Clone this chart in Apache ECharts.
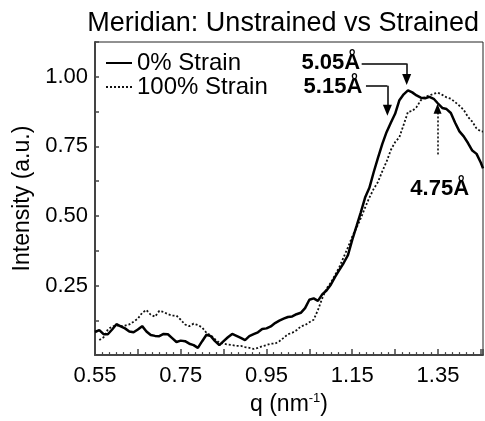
<!DOCTYPE html>
<html>
<head>
<meta charset="utf-8">
<script src="https://cdn.jsdelivr.net/npm/echarts@6/dist/echarts.min.js"></script>
<style>
  html, body { margin: 0; padding: 0; background: #fff; }
  #chart { width: 485px; height: 421px; }
</style>
</head>
<body>
<div id="chart"></div>
<script>
// q values (nm^-1)
var q = [
  0.55, 0.56, 0.57, 0.58, 0.59, 0.60, 0.61, 0.62, 0.63, 0.64,
  0.65, 0.66, 0.67, 0.68, 0.69, 0.70, 0.71, 0.72, 0.73, 0.74,
  0.75, 0.76, 0.77, 0.78, 0.79, 0.80, 0.81, 0.82, 0.83, 0.84,
  0.85, 0.86, 0.87, 0.88, 0.89, 0.90, 0.91, 0.92, 0.93, 0.94,
  0.95, 0.96, 0.97, 0.98, 0.99, 1.00, 1.01, 1.02, 1.03, 1.04,
  1.05, 1.06, 1.07, 1.08, 1.09, 1.10, 1.11, 1.12, 1.13, 1.14,
  1.15, 1.16, 1.17, 1.18, 1.19, 1.20, 1.21, 1.22, 1.23, 1.24,
  1.25, 1.26, 1.27, 1.28, 1.29, 1.30, 1.31, 1.32, 1.33, 1.34,
  1.35, 1.36, 1.37, 1.38, 1.39, 1.40, 1.41, 1.42, 1.43, 1.44,
  1.45, 1.455
]
// 0% strain (solid)
var unstrained = [
  0.083, 0.090, 0.075, 0.075, 0.092, 0.111, 0.103, 0.096, 0.085, 0.082,
  0.092, 0.104, 0.085, 0.072, 0.069, 0.068, 0.076, 0.075, 0.061, 0.047,
  0.052, 0.050, 0.041, 0.036, 0.026, 0.050, 0.073, 0.068, 0.050, 0.036,
  0.050, 0.064, 0.076, 0.069, 0.062, 0.054, 0.068, 0.075, 0.082, 0.094,
  0.096, 0.103, 0.115, 0.124, 0.131, 0.137, 0.139, 0.147, 0.152, 0.169,
  0.199, 0.204, 0.195, 0.218, 0.232, 0.253, 0.281, 0.306, 0.331, 0.359,
  0.414, 0.463, 0.513, 0.566, 0.601, 0.657, 0.709, 0.758, 0.801, 0.835,
  0.867, 0.916, 0.937, 0.951, 0.944, 0.933, 0.925, 0.923, 0.928, 0.921,
  0.904, 0.888, 0.884, 0.870, 0.835, 0.804, 0.786, 0.762, 0.735, 0.723,
  0.691, 0.671
]
// 100% strain (dotted)
var strained = [
  null, 0.054, 0.064, 0.092, 0.103, 0.107, 0.104, 0.106, 0.110, 0.120,
  0.131, 0.152, 0.162, 0.145, 0.138, 0.159, 0.155, 0.147, 0.142, 0.142,
  0.127, 0.110, 0.104, 0.113, 0.108, 0.099, 0.080, 0.071, 0.057, 0.045,
  0.041, 0.038, 0.036, 0.033, 0.033, 0.029, 0.026, 0.022, 0.026, 0.032,
  0.036, 0.041, 0.041, 0.050, 0.062, 0.075, 0.080, 0.089, 0.103, 0.108,
  0.118, 0.127, 0.162, 0.204, 0.239, 0.260, 0.288, 0.317, 0.352, 0.387,
  0.426, 0.457, 0.492, 0.530, 0.566, 0.597, 0.622, 0.660, 0.695, 0.737,
  0.765, 0.783, 0.828, 0.874, 0.877, 0.891, 0.916, 0.928, 0.933, 0.939,
  0.943, 0.935, 0.926, 0.921, 0.909, 0.896, 0.881, 0.856, 0.839, 0.814,
  0.804, 0.803
]
var seriesNames = ['0% Strain', '100% Strain']
var xLabels = ['0.55', '0.75', '0.95', '1.15', '1.35']
var yLabels = ['0.25', '0.50', '0.75', '1.00']

// peak annotations: label, label position [q, I], arrow path
var peakLabels = [
  { text: '5.05Å', at: [1.100, 1.049] },
  { text: '5.15Å', at: [1.105, 0.965] },
  { text: '4.75Å', at: [1.354, 0.597] }
]
var arrow505 = [[1.172, 1.048], [1.277, 1.048], [1.277, 0.99]]
var arrow515 = [[1.182, 0.968], [1.232, 0.968], [1.232, 0.88]]
var arrow475 = [[1.349, 0.721], [1.349, 0.885]]

function pairs(ys) {
  return q.map(function(x, i) { return [x, ys[i]] })
}

var FONT = 'Liberation Sans, Arial, sans-serif'
var solidArrow = { color: '#000', width: 1.5, type: 'solid' }

var myChart = echarts.init(document.getElementById('chart'))
var option = {
  animation: false,
  backgroundColor: '#fff',
  textStyle: { fontFamily: FONT, color: '#000' },
  title: {
    text: 'Meridian: Unstrained vs Strained',
    right: 1,
    top: 5,
    textStyle: { fontFamily: FONT, fontSize: 27, fontWeight: 'normal', color: '#000' }
  },
  legend: {
    data: seriesNames,
    orient: 'vertical',
    left: 105,
    top: 51,
    padding: 0,
    itemGap: 0,
    itemWidth: 26,
    itemHeight: 12,
    itemStyle: { opacity: 0 },
    textStyle: { fontFamily: FONT, fontSize: 24, lineHeight: 24, color: '#000' }
  },
  grid: {
    left: 95,
    right: 2,
    top: 42,
    bottom: 59,
    show: true,
    borderColor: '#222',
    borderWidth: 1
  },
  xAxis: {
    type: 'value',
    min: 0.55,
    max: 1.455,
    interval: 0.1,
    name: 'q (nm{sup|-1})',
    nameLocation: 'middle',
    nameGap: 31,
    nameTextStyle: {
      fontFamily: FONT,
      fontSize: 23,
      color: '#000',
      rich: {
        sup: { fontSize: 13, verticalAlign: 'top', padding: [0, 0, 12, 0], fontFamily: FONT, color: '#000' }
      }
    },
    axisLine: { onZero: false, lineStyle: { color: '#444', width: 2 } },
    axisTick: { inside: true, length: 6, lineStyle: { color: '#444', width: 1.5 } },
    minorTick: { show: true, splitNumber: 6, length: 3, lineStyle: { color: '#444', width: 1.2 } },
    splitLine: { show: false },
    axisLabel: {
      fontFamily: FONT,
      fontSize: 22,
      color: '#000',
      margin: 10,
      showMaxLabel: false,
      formatter: function(v) {
        var s = v.toFixed(2)
        return xLabels.indexOf(s) >= 0 ? s : ''
      }
    }
  },
  yAxis: {
    type: 'value',
    min: 0,
    max: 1.125,
    interval: 0.125,
    name: 'Intensity (a.u.)',
    nameLocation: 'middle',
    nameGap: 58,
    nameTextStyle: { fontFamily: FONT, fontSize: 23, color: '#000' },
    axisLine: { show: true, onZero: false, lineStyle: { color: '#444', width: 2 } },
    axisTick: { show: true, inside: true, length: 4, lineStyle: { color: '#444', width: 1.5 } },
    splitLine: { show: false },
    axisLabel: {
      fontFamily: FONT,
      fontSize: 22,
      color: '#000',
      margin: 7,
      formatter: function(v) {
        var s = v.toFixed(2)
        return yLabels.indexOf(s) >= 0 ? s : ''
      }
    }
  },
  series: [
    {
      name: seriesNames[0],
      type: 'line',
      data: pairs(unstrained),
      symbol: 'none',
      lineStyle: { color: '#000', width: 2.5, type: 'solid' },
      itemStyle: { color: '#000' },
      z: 3,
      markLine: {
        silent: true,
        animation: false,
        label: { show: false },
        symbolSize: [9, 11],
        itemStyle: { color: '#000' },
        data: [
          [{ coord: arrow505[0], symbol: 'none', lineStyle: solidArrow }, { coord: arrow505[1], symbol: 'none' }],
          [{ coord: arrow505[1], symbol: 'none', lineStyle: solidArrow }, { coord: arrow505[2], symbol: 'triangle' }],
          [{ coord: arrow515[0], symbol: 'none', lineStyle: solidArrow }, { coord: arrow515[1], symbol: 'none' }],
          [{ coord: arrow515[1], symbol: 'none', lineStyle: solidArrow }, { coord: arrow515[2], symbol: 'triangle' }],
          [{ coord: arrow475[0], symbol: 'none', lineStyle: { color: '#000', width: 1.5, type: [2, 2], opacity: 1 } },
           { coord: arrow475[1], symbol: 'triangle', symbolSize: [8, 10] }]
        ]
      },
      markPoint: {
        silent: true,
        symbol: 'circle',
        symbolSize: 0,
        label: {
          show: true,
          position: 'inside',
          fontFamily: FONT,
          fontSize: 22,
          fontWeight: 'bold',
          color: '#000'
        },
        data: peakLabels.map(function(p) {
          return { coord: p.at, value: p.text, label: { formatter: p.text } }
        })
      }
    },
    {
      name: seriesNames[1],
      type: 'line',
      data: pairs(strained),
      symbol: 'none',
      lineStyle: { color: '#111', width: 1.8, type: [2, 2] },
      itemStyle: { color: '#111' },
      z: 2
    }
  ]
}
myChart.setOption(option)
</script>
</body>
</html>
